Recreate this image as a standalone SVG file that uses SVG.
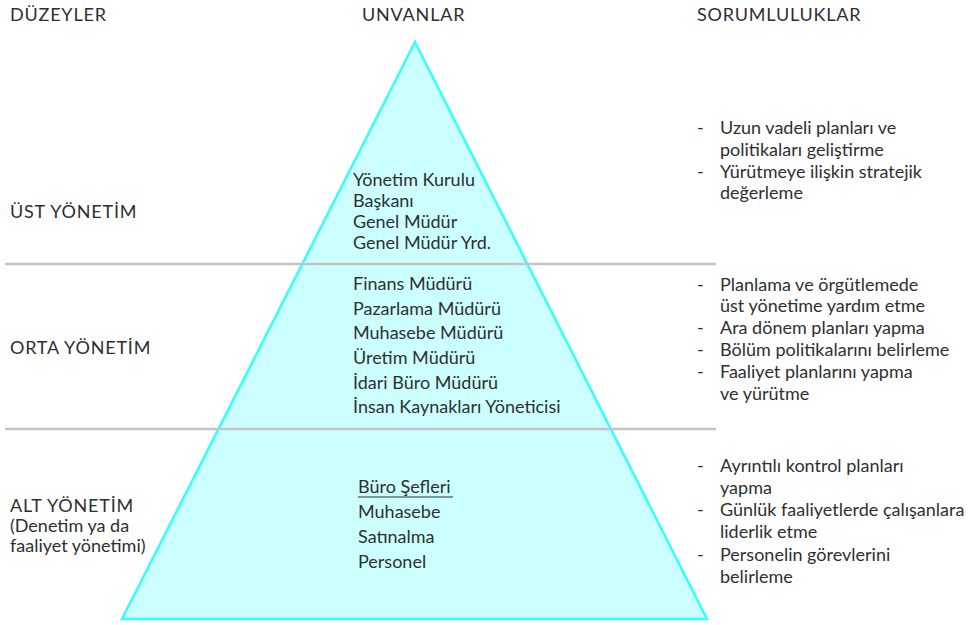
<svg xmlns="http://www.w3.org/2000/svg" width="973" height="625" viewBox="0 0 973 625">
  <style>
    text { font-family: "Lato", "Open Sans", "Liberation Sans", sans-serif; font-size: 18px; fill: #2f2f2f; }
    .caps { letter-spacing: 0.8px; }
    .sep { stroke: #c4c4c4; stroke-width: 2.5; fill: none; }
    .pyramid { fill: #ccffff; stroke: #33ffff; stroke-width: 2.5; stroke-linejoin: miter; }
  </style>
  <rect width="973" height="625" fill="#ffffff"/>

  <!-- pyramid body -->
  <g id="pyramid">
    <polygon class="pyramid" points="415,42 707,619 122,619"/>
  </g>

  <!-- tier separators -->
  <g id="separators">
    <line class="sep" x1="5" y1="264" x2="716" y2="264"/>
    <line class="sep" x1="5" y1="429" x2="716" y2="429"/>
  </g>

  <!-- column headings -->
  <g id="headings">
    <text class="caps" x="10" y="21">DÜZEYLER</text>
    <text class="caps" x="362" y="21">UNVANLAR</text>
    <text class="caps" x="697" y="21">SORUMLULUKLAR</text>
  </g>

  <!-- top management -->
  <g id="ust-yonetim">
    <text class="caps" x="10" y="218">ÜST YÖNETİM</text>
    <text x="353" y="186">Yönetim  Kurulu</text>
    <text x="353" y="207">Başkanı</text>
    <text x="353" y="228">Genel Müdür</text>
    <text x="353" y="249">Genel Müdür Yrd.</text>
    <text x="697" y="134">-</text>
    <text x="720" y="134">Uzun vadeli planları ve</text>
    <text x="720" y="156">politikaları geliştirme</text>
    <text x="697" y="178">-</text>
    <text x="720" y="178">Yürütmeye ilişkin stratejik</text>
    <text x="720" y="199">değerleme</text>
  </g>

  <!-- middle management -->
  <g id="orta-yonetim">
    <text class="caps" x="10" y="354">ORTA YÖNETİM</text>
    <text x="353" y="290">Finans Müdürü</text>
    <text x="353" y="315">Pazarlama Müdürü</text>
    <text x="353" y="339">Muhasebe Müdürü</text>
    <text x="353" y="364">Üretim Müdürü</text>
    <text x="353" y="389">İdari Büro Müdürü</text>
    <text x="353" y="413">İnsan Kaynakları Yöneticisi</text>
    <text x="697" y="291">-</text>
    <text x="720" y="291">Planlama ve örgütlemede</text>
    <text x="720" y="312">üst yönetime yardım etme</text>
    <text x="697" y="334">-</text>
    <text x="720" y="334">Ara dönem planları yapma</text>
    <text x="697" y="356">-</text>
    <text x="720" y="356">Bölüm politikalarını belirleme</text>
    <text x="697" y="378">-</text>
    <text x="720" y="378">Faaliyet planlarını yapma</text>
    <text x="720" y="400">ve yürütme</text>
  </g>

  <!-- first-line management -->
  <g id="alt-yonetim">
    <text class="caps" x="10" y="512">ALT YÖNETİM</text>
    <text x="10" y="532">(Denetim ya da</text>
    <text x="10" y="552">faaliyet yönetimi)</text>
    <text x="358" y="493">Büro Şefleri</text>
    <line x1="358" y1="497" x2="453" y2="497" stroke="#2f2f2f" stroke-width="1.2"/>
    <text x="358" y="518">Muhasebe</text>
    <text x="358" y="543">Satınalma</text>
    <text x="358" y="568">Personel</text>
    <text x="697" y="472">-</text>
    <text x="720" y="472">Ayrıntılı kontrol planları</text>
    <text x="720" y="494">yapma</text>
    <text x="697" y="516">-</text>
    <text x="720" y="516">Günlük faaliyetlerde çalışanlara</text>
    <text x="720" y="538">liderlik etme</text>
    <text x="697" y="561">-</text>
    <text x="720" y="561">Personelin görevlerini</text>
    <text x="720" y="583">belirleme</text>
  </g>
</svg>
